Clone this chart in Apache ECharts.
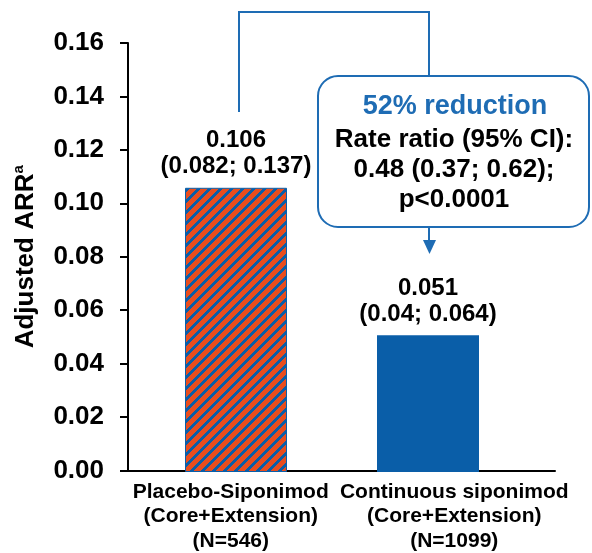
<!DOCTYPE html>
<html>
<head>
<meta charset="utf-8">
<script src="https://cdn.jsdelivr.net/npm/echarts@6/dist/echarts.min.js"></script>
<style>
  html, body { margin: 0; padding: 0; background: #fff; }
  #chart { width: 592px; height: 553px; }
</style>
</head>
<body>
<div id="chart"></div>
<script>
// data
const categories = ['Placebo-Siponimod', 'Continuous siponimod'];
const periods = ['(Core+Extension)', '(Core+Extension)'];
const nLabels = ['(N=546)', '(N=1099)'];
const arr = [0.106, 0.051];
const ciText = ['(0.082; 0.137)', '(0.04; 0.064)'];
const yTicks = [0, 0.02, 0.04, 0.06, 0.08, 0.10, 0.12, 0.14, 0.16];
const boxLines = ['52% reduction', 'Rate ratio (95% CI):', '0.48 (0.37; 0.62);', 'p<0.0001'];

const ORANGE = '#e84d1e';
const BLUE = '#0a5ea8';
const LINE_BLUE = '#1e6cb4';
const FONT = 'Liberation Sans, Arial, sans-serif';

// striped fill for the placebo bar
function stripes() {
  const p = 11;
  const c = document.createElement('canvas');
  c.width = p; c.height = p;
  const ctx = c.getContext('2d');
  ctx.fillStyle = ORANGE;
  ctx.fillRect(0, 0, p, p);
  ctx.fillStyle = BLUE;
  for (let x = 0; x < p; x++) {
    for (let y = 0; y < p; y++) {
      if ((x + y) % p < 4) ctx.fillRect(x, y, 1, 1);
    }
  }
  return c;
}

const myChart = echarts.init(document.getElementById('chart'));

// small nudges so the labels sit like the original
const labelPad = [[0, 8, 0, 0], [0, 0, 0, 12]];

const option = {
  animation: false,
  textStyle: { fontFamily: FONT },
  grid: [
    { left: 128, right: 37, top: 43, bottom: 81 },
    { left: 140, right: 68, top: 43, bottom: 81 }
  ],
  xAxis: [
    {
      type: 'category',
      gridIndex: 0,
      data: categories.map((c, i) => ({
        value: c + '\n' + periods[i] + '\n' + nLabels[i],
        textStyle: { padding: labelPad[i] }
      })),
      axisLine: { lineStyle: { color: '#000', width: 2 } },
      axisTick: { show: false },
      axisLabel: {
        interval: 0, margin: 9, color: '#000',
        fontSize: 21, fontWeight: 'bold', lineHeight: 24.5, fontFamily: FONT
      }
    },
    {
      type: 'category',
      gridIndex: 1,
      data: categories,
      show: false
    }
  ],
  yAxis: [
    {
      type: 'value',
      gridIndex: 0,
      min: yTicks[0],
      max: yTicks[yTicks.length - 1],
      interval: 0.02,
      splitLine: { show: false },
      axisLine: { show: true, lineStyle: { color: '#000', width: 2 } },
      axisTick: { show: true, length: 8, lineStyle: { color: '#000', width: 2 } },
      axisLabel: {
        margin: 24, color: '#000', fontSize: 26, fontWeight: 'bold', fontFamily: FONT,
        formatter: v => v.toFixed(2)
      },
      name: '{t|Adjusted ARR}{s|a}',
      nameLocation: 'middle',
      nameRotate: 90,
      nameGap: 87,
      nameTextStyle: {
        rich: {
          t: { fontSize: 26, fontWeight: 'bold', color: '#000', fontFamily: FONT, lineHeight: 30 },
          s: { fontSize: 15, fontWeight: 'bold', color: '#000', fontFamily: FONT, lineHeight: 30, verticalAlign: 'top' }
        }
      }
    },
    {
      type: 'value',
      gridIndex: 1,
      min: yTicks[0],
      max: yTicks[yTicks.length - 1],
      show: false
    }
  ],
  series: [
    {
      type: 'bar',
      xAxisIndex: 1,
      yAxisIndex: 1,
      barWidth: 102,
      data: arr.map((v, i) => ({
        value: v,
        itemStyle: i === 0
          ? { color: { image: stripes(), repeat: 'repeat' }, borderColor: BLUE, borderWidth: 1 }
          : { color: BLUE }
      })),
      label: {
        show: true,
        position: 'top',
        distance: 8,
        color: '#000',
        fontSize: 24,
        fontWeight: 'bold',
        fontFamily: FONT,
        lineHeight: 26,
        formatter: p => p.value + '\n' + ciText[p.dataIndex]
      }
    }
  ],
  graphic: [
    {
      type: 'polyline',
      shape: { points: [[239, 112], [239, 12], [429, 12], [429, 76]] },
      style: { stroke: LINE_BLUE, lineWidth: 2, fill: null }
    },
    {
      type: 'rect',
      shape: { x: 318, y: 76, width: 271, height: 151, r: 20 },
      style: { stroke: LINE_BLUE, lineWidth: 2, fill: '#fff' }
    },
    {
      type: 'line',
      shape: { x1: 429, y1: 227, x2: 429, y2: 242 },
      style: { stroke: LINE_BLUE, lineWidth: 2 }
    },
    {
      type: 'polygon',
      shape: { points: [[423, 240], [436, 240], [429.5, 254]] },
      style: { fill: LINE_BLUE }
    },
    {
      type: 'text', x: 455, y: 107,
      style: { text: boxLines[0], fill: LINE_BLUE, font: 'bold 27px ' + FONT, textAlign: 'center', textVerticalAlign: 'middle' }
    },
    {
      type: 'text', x: 454, y: 140,
      style: { text: boxLines[1], fill: '#000', font: 'bold 26px ' + FONT, textAlign: 'center', textVerticalAlign: 'middle' }
    },
    {
      type: 'text', x: 454, y: 170,
      style: { text: boxLines[2], fill: '#000', font: 'bold 26px ' + FONT, textAlign: 'center', textVerticalAlign: 'middle' }
    },
    {
      type: 'text', x: 454, y: 200,
      style: { text: boxLines[3], fill: '#000', font: 'bold 26px ' + FONT, textAlign: 'center', textVerticalAlign: 'middle' }
    }
  ]
};

myChart.setOption(option);
</script>
</body>
</html>
